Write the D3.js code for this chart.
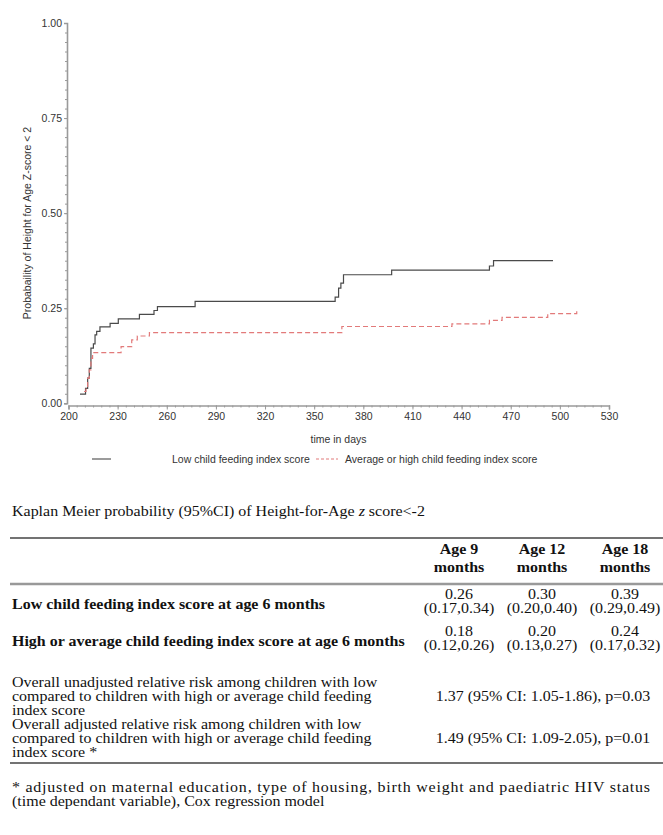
<!DOCTYPE html>
<html><head><meta charset="utf-8">
<script src="https://cdn.jsdelivr.net/npm/d3@7"></script>
<style>body{margin:0;background:#fff}svg{display:block}</style>
</head><body>
<svg id="c" width="663" height="835"></svg>
<script>
// ---- data ----
const lowDays  = [207, 210.4, 211.7, 212.7, 213.7, 215.2, 216.2, 217.2, 219.2, 225.4, 230.4, 243.3, 252.2, 254.3, 277.3, 362.8, 364.9, 366.3, 367.9, 397.3, 457, 459.5, 495.8];
const lowProb  = [0.024, 0.039, 0.066, 0.092, 0.145, 0.156, 0.18, 0.189, 0.201, 0.21, 0.222, 0.234, 0.244, 0.254, 0.268, 0.279, 0.303, 0.316, 0.338, 0.35, 0.361, 0.375, 0.375];
const highDays = [209.5, 210.7, 211.7, 212.7, 213.7, 214.7, 232.1, 238.6, 242, 249.4, 366.9, 434.1, 457, 464.7, 492.6, 510.3, 510.5];
const highProb = [0.031, 0.039, 0.066, 0.088, 0.118, 0.133, 0.149, 0.167, 0.177, 0.186, 0.202, 0.209, 0.218, 0.226, 0.236, 0.244, 0.244];
const xTicks = [200, 230, 260, 290, 320, 350, 380, 410, 440, 470, 500, 530];
const yTicks = [0, 0.25, 0.5, 0.75, 1];
const seriesNames = ["Low child feeding index score", "Average or high child feeding index score"];

const tableTitle = ["Kaplan Meier probability (95%CI) of Height-for-Age ", "z", " score<-2"];
const colHeads = [["Age 9", "months"], ["Age 12", "months"], ["Age 18", "months"]];
const rowLabels = ["Low child feeding index score at age 6 months", "High or average child feeding index score at age 6 months"];
const rowEst = [["0.26", "0.30", "0.39"], ["0.18", "0.20", "0.24"]];
const rowCI  = [["(0.17,0.34)", "(0.20,0.40)", "(0.29,0.49)"], ["(0.12,0.26)", "(0.13,0.27)", "(0.17,0.32)"]];
const rrLabels = [["Overall unadjusted relative risk among children with low", "compared to children with high or average child feeding", "index score"],
                  ["Overall adjusted relative risk among children with low", "compared to children with high or average child feeding", "index score *"]];
const rrValues = ["1.37 (95% CI: 1.05-1.86), p=0.03", "1.49 (95% CI: 1.09-2.05), p=0.01"];
const footnote = ["* adjusted on maternal education, type of housing, birth weight and paediatric HIV status", "(time dependant variable), Cox regression model"];

// ---- chart ----
const svg = d3.select("#c");
const x = d3.scaleLinear().domain([200, 530]).range([68.5, 609]);
const y = d3.scaleLinear().domain([0, 1]).range([403.3, 23]);
const axisCol = "#9a9a9a", txtCol = "#333";
const sans = "'Liberation Sans', Arial, sans-serif";
const serif = "'Liberation Serif', 'Times New Roman', serif";

const g = svg.append("g");
g.append("g").attr("transform", "translate(67,0)")
  .call(d3.axisLeft(y).tickValues(yTicks).tickFormat(d3.format(".2f")).tickSize(3).tickPadding(2));
g.append("g").attr("transform", "translate(67,0)")
  .call(d3.axisLeft(y).tickValues(d3.range(0, 1.0001, 0.025)).tickFormat("").tickSize(2))
  .call(s => s.select(".domain").remove());
g.append("g").attr("transform", "translate(0,405.5)")
  .call(d3.axisBottom(x).tickValues(xTicks).tickSize(4).tickPadding(3));
g.append("g").attr("transform", "translate(0,405.5)")
  .call(d3.axisBottom(x).tickValues(d3.range(200, 531, 5)).tickFormat("").tickSize(2))
  .call(s => s.select(".domain").remove());
g.selectAll(".domain").attr("stroke", axisCol).attr("stroke-width", 1.6);
g.selectAll(".tick line").attr("stroke", axisCol);
g.selectAll(".tick text").attr("fill", txtCol).style("font-family", sans).style("font-size", "10.5px");

g.append("text").attr("transform", "translate(31,223) rotate(-90)").attr("text-anchor", "middle")
  .style("font-family", sans).style("font-size", "10.5px").attr("fill", txtCol)
  .text("Probabaility of Height for Age Z-score < 2");
g.append("text").attr("x", 338.5).attr("y", 443).attr("text-anchor", "middle")
  .style("font-family", sans).style("font-size", "10.5px").attr("fill", txtCol).text("time in days");

const line = d3.line().x(d => x(d[0])).y(d => y(d[1])).curve(d3.curveStepAfter);
g.append("path").datum(d3.zip(lowDays, lowProb)).attr("d", line)
  .attr("fill", "none").attr("stroke", "#4a4a4a").attr("stroke-width", 1.2);
g.append("path").datum(d3.zip(highDays, highProb)).attr("d", line)
  .attr("fill", "none").attr("stroke", "#e27a7a").attr("stroke-width", 1.2).attr("stroke-dasharray", "5,3");

const lg = g.append("g");
lg.append("line").attr("x1", 92).attr("x2", 111).attr("y1", 459).attr("y2", 459).attr("stroke", "#4a4a4a").attr("stroke-width", 1.1);
lg.append("text").attr("x", 172).attr("y", 463).text(seriesNames[0]);
lg.append("line").attr("x1", 316).attr("x2", 338).attr("y1", 459).attr("y2", 459).attr("stroke", "#e27a7a").attr("stroke-width", 1.1).attr("stroke-dasharray", "3,2");
lg.append("text").attr("x", 345).attr("y", 463).text(seriesNames[1]);
lg.selectAll("text").style("font-family", sans).style("font-size", "10.5px").attr("fill", txtCol);

// ---- table (text slightly compressed vertically, as in the reference) ----
const t = svg.append("g").style("font-family", serif).attr("fill", "#111").style("font-size", "16px");
const SQ = 0.85;
function txt(px, py, str, anchor, bold) {
  const e = t.append("text").attr("transform", `translate(${px},${py}) scale(1,${SQ})`)
    .attr("text-anchor", anchor || "start");
  if (bold) e.style("font-weight", "bold");
  if (str != null) e.text(str);
  return e;
}
const tt = txt(12, 516);
tt.append("tspan").text(tableTitle[0]);
tt.append("tspan").style("font-style", "italic").text(tableTitle[1]);
tt.append("tspan").text(tableTitle[2]);

t.append("line").attr("x1", 10).attr("x2", 663).attr("y1", 538).attr("y2", 538).attr("stroke", "#444").attr("stroke-width", 1.5);
const colX = [459, 542, 625];
colHeads.forEach((h, i) => {
  txt(colX[i], 554, h[0], "middle", true);
  txt(colX[i], 572, h[1], "middle", true);
});
t.append("line").attr("x1", 10).attr("x2", 663).attr("y1", 584).attr("y2", 584).attr("stroke", "#999").attr("stroke-width", 2.5);

const rowY = [599, 636];
rowLabels.forEach((lab, r) => {
  txt(12, rowY[r] + 10, lab, "start", true);
  colX.forEach((cx, i) => {
    txt(cx, rowY[r], rowEst[r][i], "middle");
    txt(cx, rowY[r] + 14, rowCI[r][i], "middle");
  });
});
const rrY = [687, 729];
rrLabels.forEach((lines, r) => {
  lines.forEach((ln, k) => txt(12, rrY[r] + k * 14, ln));
  txt(543, rrY[r] + 14, rrValues[r], "middle");
});
t.append("line").attr("x1", 10).attr("x2", 663).attr("y1", 763).attr("y2", 763).attr("stroke", "#444").attr("stroke-width", 1.5);
txt(12, 792, footnote[0]).attr("textLength", 638).attr("lengthAdjust", "spacing");
txt(12, 806, footnote[1]);
</script>
</body></html>
